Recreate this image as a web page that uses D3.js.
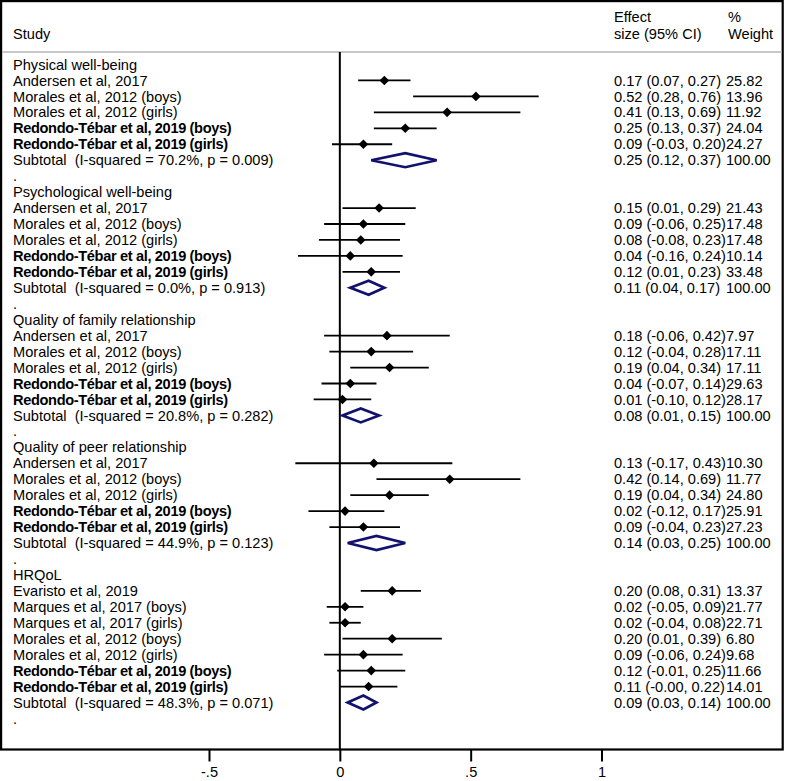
<!DOCTYPE html>
<html>
<head>
<meta charset="utf-8">
<script src="https://cdn.jsdelivr.net/npm/d3@7"></script>
<style>
  html, body { margin: 0; padding: 0; background: #fff; }
  svg { display: block; }
  text { font-family: "Liberation Sans", Arial, Helvetica, sans-serif; white-space: pre; }
</style>
</head>
<body>
<svg id="chart" width="787" height="781"></svg>
<script>
// ---------------- data ----------------
const groupNames = ["Physical well-being", "Psychological well-being",
  "Quality of family relationship", "Quality of peer relationship", "HRQoL"];

const baseStudies = ["Andersen et al, 2017", "Morales et al, 2012 (boys)", "Morales et al, 2012 (girls)",
  "Redondo-Tébar et al, 2019 (boys)", "Redondo-Tébar et al, 2019 (girls)"];
const hrqolStudies = ["Evaristo et al, 2019", "Marques et al, 2017 (boys)", "Marques et al, 2017 (girls)",
  "Morales et al, 2012 (boys)", "Morales et al, 2012 (girls)",
  "Redondo-Tébar et al, 2019 (boys)", "Redondo-Tébar et al, 2019 (girls)"];
const studyNames = [baseStudies, baseStudies, baseStudies, baseStudies, hrqolStudies];

const effects = [
  [0.17, 0.52, 0.41, 0.25, 0.09],
  [0.15, 0.09, 0.08, 0.04, 0.12],
  [0.18, 0.12, 0.19, 0.04, 0.01],
  [0.13, 0.42, 0.19, 0.02, 0.09],
  [0.20, 0.02, 0.02, 0.20, 0.09, 0.12, 0.11]
];
const lower = [
  [0.07, 0.28, 0.13, 0.13, -0.03],
  [0.01, -0.06, -0.08, -0.16, 0.01],
  [-0.06, -0.04, 0.04, -0.07, -0.10],
  [-0.17, 0.14, 0.04, -0.12, -0.04],
  [0.08, -0.05, -0.04, 0.01, -0.06, -0.01, -0.00]
];
const upper = [
  [0.27, 0.76, 0.69, 0.37, 0.20],
  [0.29, 0.25, 0.23, 0.24, 0.23],
  [0.42, 0.28, 0.34, 0.14, 0.12],
  [0.43, 0.69, 0.34, 0.17, 0.23],
  [0.31, 0.09, 0.08, 0.39, 0.24, 0.25, 0.22]
];
const weights = [
  [25.82, 13.96, 11.92, 24.04, 24.27],
  [21.43, 17.48, 17.48, 10.14, 33.48],
  [7.97, 17.11, 17.11, 29.63, 28.17],
  [10.30, 11.77, 24.80, 25.91, 27.23],
  [13.37, 21.77, 22.71, 6.80, 9.68, 11.66, 14.01]
];
const subtotalES = [0.25, 0.11, 0.08, 0.14, 0.09];
const subtotalLo = [0.12, 0.04, 0.01, 0.03, 0.03];
const subtotalHi = [0.37, 0.17, 0.15, 0.25, 0.14];
const iSquared = [70.2, 0.0, 20.8, 44.9, 48.3];
const pValues = [0.009, 0.913, 0.282, 0.123, 0.071];

const tickValues = [-0.5, 0, 0.5, 1];
const tickLabels = ["-.5", "0", ".5", "1"];

// ---------------- build rows ----------------
const rows = [];
groupNames.forEach((g, gi) => {
  rows.push({type: "header", label: g});
  studyNames[gi].forEach((s, si) => {
    rows.push({type: "study", label: s, bold: s.startsWith("Redondo"),
      es: effects[gi][si], lo: lower[gi][si], hi: upper[gi][si], w: weights[gi][si]});
  });
  rows.push({type: "subtotal",
    label: `Subtotal  (I-squared = ${iSquared[gi].toFixed(1)}%, p = ${pValues[gi].toFixed(3)})`,
    es: subtotalES[gi], lo: subtotalLo[gi], hi: subtotalHi[gi], w: 100});
  rows.push({type: "dot", label: "."});
});

function f2(v) {
  const s = Math.abs(v).toFixed(2);
  return (v < 0 || Object.is(v, -0)) ? "-" + s : s;
}

// ---------------- layout ----------------
const FS = 14.6;
const svg = d3.select("#chart");

const x = d3.scaleLinear().domain([-0.5, 1]).range([209, 601.5]);
const y = d3.scaleLinear().domain([0, rows.length - 1]).range([64.5, 64.5 + 15.95 * (rows.length - 1)]);

const boxBottom = 749.5;
const headerY = 52;

// outer box
svg.append("rect").attr("x", 1.1).attr("y", 1.1).attr("width", 781.6).attr("height", boxBottom - 1.1)
  .attr("fill", "none").attr("stroke", "#000").attr("stroke-width", 2.2);

// header separator
svg.append("line").attr("x1", 2).attr("x2", 782).attr("y1", headerY).attr("y2", headerY)
  .attr("stroke", "#b4b4b4").attr("stroke-width", 1.6);

// header texts
const hdr = svg.append("g").attr("font-size", FS).attr("fill", "#000");
hdr.append("text").attr("x", 13).attr("y", 34).attr("dy", "0.35em").text("Study");
hdr.append("text").attr("x", 614).attr("y", 17).attr("dy", "0.35em").text("Effect");
hdr.append("text").attr("x", 614).attr("y", 34).attr("dy", "0.35em").text("size (95% CI)");
hdr.append("text").attr("x", 728).attr("y", 17).attr("dy", "0.35em").text("%");
hdr.append("text").attr("x", 728).attr("y", 34).attr("dy", "0.35em").text("Weight");

// zero line
svg.append("line").attr("x1", x(0)).attr("x2", x(0)).attr("y1", headerY).attr("y2", boxBottom)
  .attr("stroke", "#000").attr("stroke-width", 2);

// row labels
svg.append("g").selectAll("text").data(rows).join("text")
  .attr("x", 13).attr("y", (d, i) => y(i)).attr("dy", "0.35em")
  .attr("font-size", FS)
  .attr("font-weight", d => d.bold ? "bold" : "normal")
  .attr("letter-spacing", d => d.bold ? "-0.35px" : null)
  .text(d => d.label);

// right column texts
const numRows = rows.map((d, i) => ({...d, i})).filter(d => d.type === "study" || d.type === "subtotal");
svg.append("g").selectAll("text").data(numRows).join("text")
  .attr("x", 614).attr("y", d => y(d.i)).attr("dy", "0.35em").attr("font-size", FS)
  .text(d => `${f2(d.es)} (${f2(d.lo)}, ${f2(d.hi)})`);
svg.append("g").selectAll("text").data(numRows).join("text")
  .attr("x", 726).attr("y", d => y(d.i)).attr("dy", "0.35em").attr("font-size", FS)
  .text(d => d.w.toFixed(2));

// CI lines and markers for studies
const studies = numRows.filter(d => d.type === "study");
svg.append("g").selectAll("line").data(studies).join("line")
  .attr("x1", d => x(d.lo)).attr("x2", d => x(d.hi))
  .attr("y1", d => y(d.i)).attr("y2", d => y(d.i))
  .attr("stroke", "#000").attr("stroke-width", 1.8);
const ms = 4.8;
svg.append("g").selectAll("path").data(studies).join("path")
  .attr("d", d => {
    const cx = x(d.es), cy = y(d.i);
    return `M${cx - ms},${cy}L${cx},${cy - ms}L${cx + ms},${cy}L${cx},${cy + ms}Z`;
  })
  .attr("fill", "#000");

// subtotal diamonds
const subs = numRows.filter(d => d.type === "subtotal");
const dh = 7;
svg.append("g").selectAll("path").data(subs).join("path")
  .attr("d", d => {
    const cy = y(d.i);
    return `M${x(d.lo)},${cy}L${x(d.es)},${cy - dh}L${x(d.hi)},${cy}L${x(d.es)},${cy + dh}Z`;
  })
  .attr("fill", "#fff").attr("stroke", "#12126e").attr("stroke-width", 2.7)
  .attr("stroke-linejoin", "miter");

// x axis
const axis = d3.axisBottom(x).tickValues(tickValues)
  .tickFormat((d, i) => tickLabels[i]).tickSize(12).tickPadding(5);
const ag = svg.append("g").attr("transform", `translate(0,${boxBottom})`).call(axis);
ag.select(".domain").remove();
ag.selectAll(".tick line").attr("stroke", "#000").attr("stroke-width", 2);
ag.selectAll(".tick text").attr("font-size", FS)
  .attr("font-family", "'Liberation Sans', Arial, Helvetica, sans-serif").attr("fill", "#000");
</script>
</body>
</html>
